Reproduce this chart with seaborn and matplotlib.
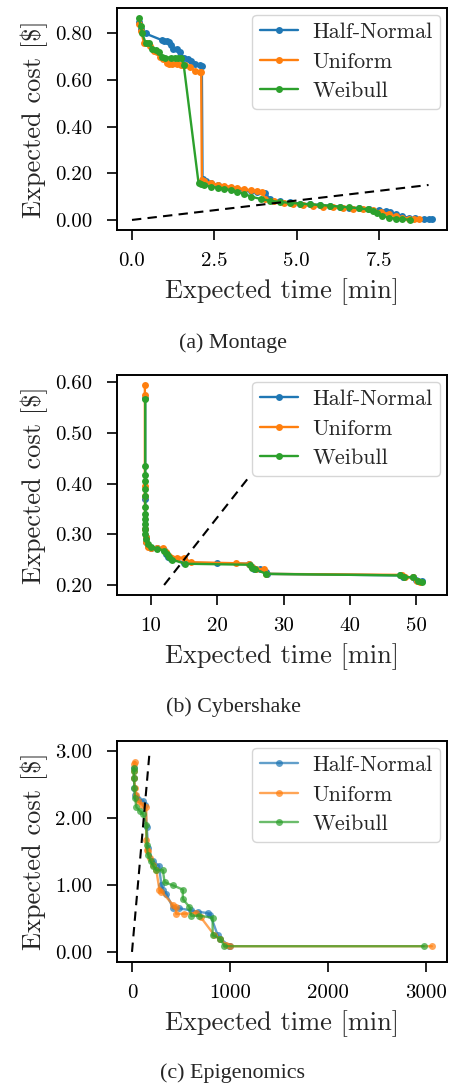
import pandas as pd
import matplotlib
matplotlib.use("Agg")
import matplotlib.pyplot as plt
import seaborn as sns
from matplotlib.ticker import FormatStrFormatter, MultipleLocator

sns.set_theme(style="ticks")
plt.rcParams.update({
    "font.family": "serif",
    "font.serif": ["cmr10"],
    "mathtext.fontset": "cm",
    "axes.formatter.use_mathtext": True,
    "axes.linewidth": 1.4,
    "axes.edgecolor": "black",
    "xtick.major.size": 7,
    "ytick.major.size": 7,
    "xtick.major.width": 1.2,
    "ytick.major.width": 1.2,
    "xtick.major.pad": 9,
    "ytick.major.pad": 11,
    "xtick.color": "black",
    "ytick.color": "black",
})

labels = ["Half-Normal", "Uniform", "Weibull"]
colors = ["#1f77b4", "#ff7f0e", "#2ca02c"]

# ---- (a) Montage ----
mont_hn_t = [0.20, 0.28, 0.41, 0.90, 0.96, 1.05, 1.11, 1.17, 1.25, 1.36, 1.45, 1.57, 1.70, 1.80, 1.92, 2.05, 2.12,
             2.14, 2.25, 2.40, 2.60, 2.80, 3.00, 3.20, 3.40, 3.60, 3.80, 4.03, 4.20, 4.50, 4.80, 5.10, 5.40, 5.70, 6.00,
             6.30, 6.60, 6.90, 7.20, 7.50, 7.70, 7.84, 8.00, 8.20, 8.40, 8.60, 8.85, 9.00, 9.10]
mont_hn_c = [0.85, 0.82, 0.80, 0.772, 0.769, 0.769, 0.765, 0.75, 0.733, 0.733, 0.72, 0.697, 0.69, 0.68, 0.668, 0.665, 0.661,
             0.175, 0.165, 0.158, 0.15, 0.143, 0.137, 0.132, 0.128, 0.124, 0.12, 0.115, 0.09, 0.08, 0.075, 0.07, 0.067, 0.064, 0.06,
             0.056, 0.052, 0.05, 0.046, 0.042, 0.04, 0.036, 0.025, 0.015, 0.01, 0.007, 0.004, 0.003, 0.002]
mont_un_t = [0.22, 0.28, 0.36, 0.45, 0.55, 0.66, 0.75, 0.85, 0.95, 1.05, 1.11, 1.20, 1.36, 1.50, 1.60, 1.75, 1.92, 2.05, 2.10,
             2.12, 2.20, 2.40, 2.60, 2.80, 3.00, 3.20, 3.40, 3.60, 3.80, 3.95, 4.05, 4.30, 4.60, 4.90, 5.20, 5.50, 5.80,
             6.10, 6.40, 6.70, 7.00, 7.30, 7.55, 7.80, 8.00, 8.20, 8.40, 8.55, 8.72]
mont_un_c = [0.84, 0.81, 0.761, 0.76, 0.745, 0.725, 0.72, 0.70, 0.69, 0.675, 0.668, 0.668, 0.668, 0.665, 0.665, 0.655, 0.64, 0.636, 0.635,
             0.172, 0.165, 0.158, 0.152, 0.147, 0.142, 0.137, 0.132, 0.127, 0.122, 0.118, 0.09, 0.08, 0.072, 0.068, 0.064, 0.06, 0.057,
             0.054, 0.05, 0.047, 0.045, 0.042, 0.035, 0.025, 0.015, 0.01, 0.006, 0.004, 0.002]
mont_wb_t = [0.21, 0.26, 0.31, 0.41, 0.51, 0.61, 0.72, 0.82, 0.90, 1.00, 1.17, 1.30, 1.41, 1.50, 1.57,
             2.02, 2.10, 2.20, 2.40, 2.60, 2.80, 3.00, 3.20, 3.40, 3.62, 3.90, 4.20, 4.50, 4.80, 5.10, 5.40, 5.70,
             6.00, 6.30, 6.60, 6.90, 7.15, 7.30, 7.45, 7.60, 7.80, 8.00, 8.20, 8.44]
mont_wb_c = [0.866, 0.833, 0.80, 0.761, 0.761, 0.733, 0.728, 0.72, 0.70, 0.697, 0.697, 0.697, 0.697, 0.695, 0.664,
             0.158, 0.153, 0.148, 0.143, 0.138, 0.133, 0.127, 0.12, 0.112, 0.10, 0.09, 0.082, 0.077, 0.073, 0.07, 0.067, 0.064,
             0.061, 0.057, 0.054, 0.05, 0.045, 0.038, 0.028, 0.018, 0.01, 0.005, 0.003, 0.001]
mont_ref_t = [0.0, 9.0]
mont_ref_c = [0.0, 0.15]

# ---- (b) Cybershake ----
cyber_hn_t = [9.15, 9.15, 9.15, 9.2, 9.3, 9.5, 10.0, 11.0, 12.0, 12.3, 12.6, 13.0, 15.0, 20.0, 24.8, 25.2, 25.6, 26.5,
              27.3, 27.5, 47.5, 48.0, 49.5, 50.0, 50.8]
cyber_hn_c = [0.57, 0.37, 0.31, 0.295, 0.285, 0.278, 0.274, 0.273, 0.27, 0.262, 0.255, 0.252, 0.244, 0.243, 0.242, 0.235,
              0.232, 0.231, 0.225, 0.222, 0.219, 0.216, 0.215, 0.21, 0.207]
cyber_un_t = [9.1, 9.1, 9.1, 9.1, 9.15, 9.2, 9.3, 9.5, 10.0, 11.0, 11.9, 12.3, 12.7, 13.2, 14.0, 15.0, 16.0, 22.9, 24.8,
              25.3, 25.8, 27.0, 27.4, 47.8, 48.3, 49.5, 50.1, 50.6]
cyber_un_c = [0.595, 0.575, 0.395, 0.375, 0.31, 0.295, 0.285, 0.275, 0.273, 0.273, 0.273, 0.265, 0.258, 0.254, 0.254, 0.254,
              0.245, 0.243, 0.242, 0.235, 0.232, 0.231, 0.222, 0.22, 0.216, 0.215, 0.207, 0.205]
cyber_wb_t = [9.15, 9.15, 9.15, 9.15, 9.15, 9.15, 9.15, 9.15, 9.15, 9.15, 9.15, 9.15, 9.3, 9.5, 10.0, 11.0, 12.0, 12.4,
              12.8, 13.2, 15.2, 24.9, 25.3, 25.7, 27.4, 47.5, 48.2, 49.5, 50.3, 50.9]
cyber_wb_c = [0.567, 0.435, 0.418, 0.405, 0.39, 0.375, 0.355, 0.34, 0.33, 0.32, 0.31, 0.30, 0.29, 0.28, 0.275, 0.272,
              0.268, 0.262, 0.256, 0.25, 0.242, 0.24, 0.233, 0.231, 0.222, 0.219, 0.216, 0.215, 0.208, 0.206]
cyber_ref_t = [12.0, 25.0]
cyber_ref_c = [0.20, 0.4167]

# ---- (c) Epigenomics ----
epi_hn_t = [20, 20, 25, 30, 40, 60, 112, 135, 150, 165, 213, 274, 300, 315, 349, 420, 484, 600, 670, 772, 800, 873,
            900, 992, 1000]
epi_hn_c = [2.75, 2.6, 2.45, 2.35, 2.31, 2.28, 2.26, 2.2, 1.87, 1.55, 1.35, 1.29, 1.0, 0.92, 0.87, 0.65, 0.65, 0.62,
            0.60, 0.58, 0.55, 0.25, 0.2, 0.09, 0.085]
epi_un_t = [27, 25, 20, 22, 30, 40, 60, 100, 146, 146, 150, 162, 180, 213, 248, 280, 300, 420, 450, 450, 535, 653, 700,
            839, 900, 958, 1000, 3056]
epi_un_c = [2.84, 2.8, 2.7, 2.6, 2.45, 2.35, 2.25, 2.2, 2.16, 1.67, 1.52, 1.5, 1.4, 1.3, 1.22, 0.92, 0.9, 0.7, 0.67,
            0.57, 0.57, 0.58, 0.52, 0.25, 0.2, 0.10, 0.085, 0.085]
epi_wb_t = [20, 18, 20, 25, 30, 45, 78, 112, 146, 150, 162, 190, 213, 248, 315, 332, 416, 518, 518, 586, 603, 687, 822,
            822, 900, 941, 2972]
epi_wb_c = [2.75, 2.7, 2.6, 2.45, 2.3, 2.16, 2.11, 2.06, 1.9, 1.6, 1.45, 1.35, 1.29, 1.22, 1.22, 1.04, 0.995, 0.93,
            0.79, 0.67, 0.54, 0.54, 0.51, 0.25, 0.2, 0.085, 0.085]
epi_ref_t = [0, 180]
epi_ref_c = [0.0, 3.0]


def make_df(series):
    frames = []
    for lab, (t, c) in zip(labels, series):
        frames.append(pd.DataFrame({"time": t, "cost": c, "dist": lab}))
    return pd.concat(frames, ignore_index=True)


panels = [
    ("(a) Montage", [(mont_hn_t, mont_hn_c), (mont_un_t, mont_un_c), (mont_wb_t, mont_wb_c)],
     (mont_ref_t, mont_ref_c), 1.0, None, 2.5, "%.1f"),
    ("(b) Cybershake", [(cyber_hn_t, cyber_hn_c), (cyber_un_t, cyber_un_c), (cyber_wb_t, cyber_wb_c)],
     (cyber_ref_t, cyber_ref_c), 1.0, (4.9, 54.6), 10, "%d"),
    ("(c) Epigenomics", [(epi_hn_t, epi_hn_c), (epi_un_t, epi_un_c), (epi_wb_t, epi_wb_c)],
     (epi_ref_t, epi_ref_c), 0.7, None, 1000, "%d"),
]

fig = plt.figure(figsize=(4.5, 10.85), dpi=100)
axes_pos = [
    [0.26, 0.788, 0.733, 0.2046],
    [0.26, 0.4516, 0.733, 0.2028],
    [0.26, 0.1134, 0.733, 0.2037],
]
caption_y = [1 - 343 / 1085, 1 - 707 / 1085, 1 - 1073 / 1085]

for pos, cy, (cap, series, ref, alpha, xlim, xstep, xfmt) in zip(axes_pos, caption_y, panels):
    ax = fig.add_axes(pos)
    df = make_df(series)
    sns.lineplot(data=df, x="time", y="cost", hue="dist", hue_order=labels, palette=colors,
                 units="dist", estimator=None, sort=False, marker="o", markersize=5,
                 markeredgewidth=0, linewidth=1.7, alpha=alpha, ax=ax, legend=False)
    ax.plot(ref[0], ref[1], color="black", linestyle="--", linewidth=1.5, dashes=(4.5, 3))
    handles = [plt.Line2D([], [], color=c, marker="o", markersize=5, markeredgewidth=0,
                          linewidth=1.7, alpha=alpha) for c in colors]
    ax.legend(handles, labels, loc="upper right", fontsize=16, handlelength=1.7,
              borderpad=0.35, labelspacing=0.45, handletextpad=0.65, borderaxespad=0.3)
    if xlim is not None:
        ax.set_xlim(*xlim)
    ax.xaxis.set_major_locator(MultipleLocator(xstep))
    ax.xaxis.set_major_formatter(FormatStrFormatter(xfmt))
    ax.yaxis.set_major_formatter(FormatStrFormatter("%.2f"))
    ax.tick_params(labelsize=15)
    ax.set_xlabel("Expected time [min]", fontsize=19, labelpad=6)
    ax.set_ylabel("Expected cost [$]", fontsize=19, labelpad=5)
    fig.text(233 / 450, cy, cap, ha="center", va="center", fontsize=15.8,
             family=["Liberation Serif", "DejaVu Serif"])

fig.savefig("out.png", dpi=100)
